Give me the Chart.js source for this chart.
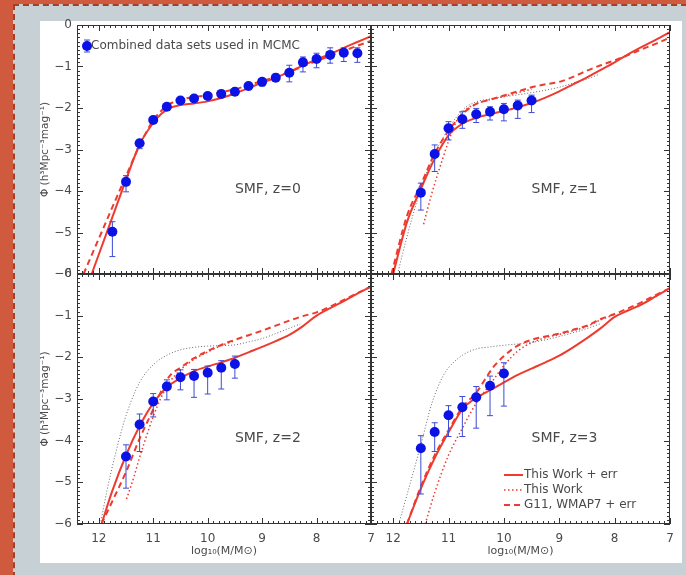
<!DOCTYPE html>
<html>
<head>
<meta charset="utf-8">
<script src="https://cdn.jsdelivr.net/npm/chart.js@4.4.1/dist/chart.umd.min.js"></script>
<style>
    html, body { margin: 0; padding: 0; }
    body { width: 686px; height: 575px; background: #d05a3e; position: relative; overflow: hidden; }
    #frame { position: absolute; left: 13px; top: 4px; width: 700px; height: 600px; border: 2px dashed #a53f29; background: #c6d0d5; }
    #paper { position: absolute; left: 40px; top: 21px; width: 642px; height: 542px; background: #fff; }
    canvas { position: absolute; }
</style>
</head>
<body>
<div id="frame"></div>
<div id="paper"></div>
<canvas id="smf0"></canvas>
<canvas id="smf1"></canvas>
<canvas id="smf2"></canvas>
<canvas id="smf3"></canvas>
<script>
// axis ranges (log10 stellar mass runs backwards, 12.4 -> 7)
const MASS_MIN = 7, MASS_MAX = 12.4;
const PHI_MIN = -6, PHI_MAX = 0;

// z=0 observations
const obsMassZ0 = [11.75, 11.5, 11.25, 11.0, 10.75, 10.5, 10.25, 10.0, 9.75, 9.5, 9.25, 9.0, 8.75, 8.5, 8.25, 8.0, 7.75, 7.5, 7.25];
const obsPhiZ0 = [-4.98, -3.78, -2.85, -2.29, -1.97, -1.82, -1.77, -1.71, -1.66, -1.61, -1.47, -1.37, -1.27, -1.15, -0.90, -0.82, -0.72, -0.67, -0.68];
const obsLoZ0 = [-5.58, -4.02, -2.98, -2.36, -2.03, -1.87, -1.82, -1.76, -1.72, -1.66, -1.56, -1.47, -1.36, -1.37, -1.13, -1.03, -0.92, -0.88, -0.90];
const obsHiZ0 = [-4.74, -3.63, -2.77, -2.22, -1.91, -1.77, -1.72, -1.66, -1.60, -1.56, -1.40, -1.29, -1.18, -0.97, -0.77, -0.68, -0.55, -0.55, -0.55];

// z=1 observations
const obsMassZ1 = [11.5, 11.25, 11.0, 10.75, 10.5, 10.25, 10.0, 9.75, 9.5];
const obsPhiZ1 = [-4.04, -3.11, -2.49, -2.27, -2.15, -2.09, -2.03, -1.94, -1.82];
const obsLoZ1 = [-4.46, -3.53, -2.77, -2.49, -2.35, -2.29, -2.31, -2.25, -2.11];
const obsHiZ1 = [-3.81, -2.89, -2.33, -2.09, -2.01, -1.97, -1.89, -1.81, -1.69];

// z=2 observations
const obsMassZ2 = [11.5, 11.25, 11.0, 10.75, 10.5, 10.25, 10.0, 9.75, 9.5];
const obsPhiZ2 = [-4.38, -3.61, -3.06, -2.70, -2.48, -2.45, -2.37, -2.25, -2.16];
const obsLoZ2 = [-5.14, -4.26, -3.43, -3.02, -2.78, -2.96, -2.88, -2.76, -2.50];
const obsHiZ2 = [-4.10, -3.36, -2.87, -2.54, -2.30, -2.29, -2.21, -2.08, -1.97];

// z=3 observations
const obsMassZ3 = [11.5, 11.25, 11.0, 10.75, 10.5, 10.25, 10.0];
const obsPhiZ3 = [-4.18, -3.79, -3.39, -3.20, -2.96, -2.68, -2.39];
const obsLoZ3 = [-5.28, -4.26, -3.90, -3.90, -3.70, -3.40, -3.17];
const obsHiZ3 = [-3.88, -3.57, -3.16, -2.94, -2.70, -2.45, -2.13];

// model curves as [log10 M, phi]
const workErrZ0 = [[12.13, -6.0], [12.0, -5.53], [11.75, -4.63], [11.5, -3.73], [11.25, -2.88], [11.0, -2.36], [10.85, -2.14], [10.7, -2.0], [10.5, -1.93], [10.25, -1.89], [10.0, -1.84], [9.75, -1.76], [9.5, -1.65], [9.25, -1.52], [9.0, -1.39], [8.75, -1.27], [8.5, -1.13], [8.25, -0.98], [8.0, -0.83], [7.75, -0.70], [7.5, -0.55], [7.25, -0.41], [7.0, -0.27]];
const g11ErrZ0 = [[12.28, -6.0], [12.0, -5.15], [11.75, -4.39], [11.5, -3.64], [11.25, -2.9], [11.0, -2.3], [10.75, -1.95], [10.5, -1.8], [10.25, -1.74], [10.0, -1.69], [9.75, -1.62], [9.5, -1.55], [9.25, -1.45], [9.0, -1.35], [8.75, -1.25], [8.5, -1.13], [8.25, -1.0], [8.0, -0.87], [7.75, -0.74], [7.5, -0.62], [7.25, -0.5], [7.0, -0.38]];

const workErrZ1 = [[12.0, -6.0], [11.75, -4.75], [11.5, -3.95], [11.25, -3.22], [11.0, -2.66], [10.75, -2.38], [10.5, -2.24], [10.25, -2.15], [10.0, -2.07], [9.75, -1.98], [9.5, -1.88], [9.25, -1.75], [9.0, -1.6], [8.75, -1.43], [8.5, -1.26], [8.25, -1.08], [8.0, -0.9], [7.75, -0.7], [7.5, -0.52], [7.25, -0.35], [7.0, -0.17]];
const workZ1 = [[11.45, -4.8], [11.3, -4.05], [11.1, -3.2], [11.0, -2.8], [10.85, -2.3], [10.7, -2.05], [10.5, -1.9], [10.25, -1.8], [10.0, -1.72], [9.75, -1.63], [9.5, -1.55]];
const g11ErrZ1 = [[12.03, -6.0], [11.75, -4.6], [11.5, -3.85], [11.25, -3.1], [11.0, -2.55], [10.75, -2.15], [10.5, -1.9], [10.25, -1.8], [10.0, -1.7], [9.75, -1.6], [9.5, -1.5], [9.25, -1.43], [9.0, -1.37], [8.75, -1.25], [8.5, -1.1], [8.25, -0.97], [8.0, -0.85], [7.75, -0.72], [7.5, -0.58], [7.25, -0.45], [7.0, -0.3]];
const g11Z1 = [[11.92, -6.0], [11.75, -5.1], [11.5, -3.95], [11.25, -3.1], [11.0, -2.5], [10.75, -2.05], [10.5, -1.85], [10.25, -1.78], [10.0, -1.73], [9.5, -1.63], [9.0, -1.5], [8.75, -1.4], [8.5, -1.3], [8.3, -1.2]];

const workErrZ2 = [[11.95, -6.0], [11.75, -5.2], [11.5, -4.35], [11.25, -3.65], [11.0, -3.1], [10.75, -2.72], [10.5, -2.5], [10.25, -2.33], [10.0, -2.22], [9.75, -2.12], [9.5, -2.01], [9.25, -1.88], [9.0, -1.75], [8.75, -1.61], [8.5, -1.46], [8.25, -1.25], [8.0, -1.0], [7.75, -0.82], [7.5, -0.65], [7.25, -0.47], [7.0, -0.3]];
const workZ2 = [[11.49, -5.4], [11.35, -4.85], [11.25, -4.4], [11.1, -3.8], [11.0, -3.42], [10.85, -2.95], [10.7, -2.6], [10.5, -2.3], [10.25, -2.05], [10.0, -1.87], [9.75, -1.72], [9.5, -1.6]];
const g11ErrZ2 = [[11.95, -6.0], [11.75, -5.45], [11.5, -4.75], [11.25, -3.95], [11.0, -3.25], [10.85, -2.8], [10.7, -2.45], [10.5, -2.25], [10.25, -2.02], [10.0, -1.85], [9.75, -1.7], [9.5, -1.58], [9.25, -1.47], [9.0, -1.36], [8.75, -1.24], [8.5, -1.12], [8.25, -1.01], [8.0, -0.92], [7.75, -0.78], [7.5, -0.62], [7.25, -0.46], [7.0, -0.3]];
const g11Z2 = [[11.97, -6.0], [11.85, -5.2], [11.7, -4.35], [11.5, -3.4], [11.25, -2.6], [11.0, -2.18], [10.75, -1.95], [10.5, -1.82], [10.25, -1.76], [10.0, -1.73], [9.75, -1.72], [9.5, -1.7], [9.25, -1.63], [9.0, -1.55], [8.75, -1.43], [8.5, -1.3], [8.3, -1.2]];

const workErrZ3 = [[11.75, -6.0], [11.5, -5.15], [11.25, -4.42], [11.0, -3.8], [10.75, -3.25], [10.5, -2.97], [10.25, -2.79], [10.0, -2.6], [9.75, -2.42], [9.5, -2.27], [9.25, -2.12], [9.0, -1.96], [8.75, -1.76], [8.5, -1.54], [8.25, -1.3], [8.0, -1.03], [7.75, -0.87], [7.5, -0.72], [7.25, -0.53], [7.0, -0.34]];
const workZ3 = [[11.42, -6.0], [11.25, -5.25], [11.0, -4.35], [10.75, -3.7], [10.5, -3.1], [10.25, -2.65], [10.0, -2.2], [9.75, -1.85], [9.5, -1.65], [9.25, -1.53], [9.0, -1.45], [8.75, -1.36], [8.5, -1.26], [8.25, -1.1], [8.0, -0.97]];
const g11ErrZ3 = [[11.75, -6.0], [11.5, -5.1], [11.25, -4.35], [11.0, -3.75], [10.75, -3.2], [10.5, -2.85], [10.35, -2.55], [10.2, -2.25], [10.0, -1.97], [9.75, -1.72], [9.5, -1.58], [9.25, -1.5], [9.0, -1.43], [8.75, -1.34], [8.5, -1.24], [8.25, -1.08], [8.0, -0.96], [7.75, -0.82], [7.5, -0.67], [7.25, -0.5], [7.0, -0.34]];
const g11Z3 = [[11.9, -6.0], [11.75, -5.3], [11.5, -4.1], [11.3, -3.1], [11.1, -2.45], [11.0, -2.25], [10.75, -1.95], [10.5, -1.8], [10.25, -1.75], [10.0, -1.71], [9.75, -1.68], [9.5, -1.64], [9.25, -1.58], [9.0, -1.5], [8.75, -1.41], [8.5, -1.31], [8.25, -1.19]];

const modelLabels = ['This Work + err', 'This Work', 'G11, WMAP7 + err'];

const FONT = 'DejaVu Sans';
const TEXT = '#4a4a4a';
const AXIS = '#333';
const RED = '#ee3b30';
const BLUE = '#0a12e6';
const ERR_BLUE = '#3d4bd6';
const GREY = '#666';
const Y_AXIS_W = 40;
const X_AXIS_H = 40;

const STYLES = {
    solid: { borderColor: RED, borderWidth: 2, borderDash: [] },
    dotted: { borderColor: RED, borderWidth: 1.5, borderDash: [1.5, 2.5] },
    dashed: { borderColor: RED, borderWidth: 2, borderDash: [6, 4] },
    grey: { borderColor: GREY, borderWidth: 1, borderDash: [1, 2] }
};

const panels = [
    { id: 'smf0', label: 'SMF, z=0', rect: [77, 25, 371, 274], showX: false, showY: true, legend: 'data',
        obs: [obsMassZ0, obsPhiZ0, obsLoZ0, obsHiZ0], curves: [[workErrZ0, 'solid'], [g11ErrZ0, 'dashed']] },
    { id: 'smf1', label: 'SMF, z=1', rect: [371, 25, 670, 274], showX: false, showY: false, legend: null,
        obs: [obsMassZ1, obsPhiZ1, obsLoZ1, obsHiZ1], curves: [[workErrZ1, 'solid'], [workZ1, 'dotted'], [g11ErrZ1, 'dashed'], [g11Z1, 'grey']] },
    { id: 'smf2', label: 'SMF, z=2', rect: [77, 274, 371, 524], showX: true, showY: true, legend: null,
        obs: [obsMassZ2, obsPhiZ2, obsLoZ2, obsHiZ2], curves: [[workErrZ2, 'solid'], [workZ2, 'dotted'], [g11ErrZ2, 'dashed'], [g11Z2, 'grey']] },
    { id: 'smf3', label: 'SMF, z=3', rect: [371, 274, 670, 524], showX: true, showY: false, legend: 'models',
        obs: [obsMassZ3, obsPhiZ3, obsLoZ3, obsHiZ3], curves: [[workErrZ3, 'solid'], [workZ3, 'dotted'], [g11ErrZ3, 'dashed'], [g11Z3, 'grey']] }
];

// IDL style box: frame plus inward major/minor ticks on all four sides
const idlFrame = {
    id: 'idlFrame',
    afterDatasetsDraw(chart) {
        const { ctx, chartArea: a, scales: { x, y } } = chart;
        ctx.save();
        ctx.strokeStyle = AXIS;
        ctx.lineWidth = 1;
        ctx.beginPath();
        for (let m = MASS_MIN * 10; m <= MASS_MAX * 10; m++) {
            const px = Math.round(x.getPixelForValue(m / 10)) + 0.5;
            const len = m % 10 === 0 ? 6 : 3;
            ctx.moveTo(px, a.bottom); ctx.lineTo(px, a.bottom - len);
            ctx.moveTo(px, a.top); ctx.lineTo(px, a.top + len);
        }
        for (let f = PHI_MIN * 10; f <= PHI_MAX * 10; f++) {
            const py = Math.round(y.getPixelForValue(f / 10)) + 0.5;
            const len = f % 10 === 0 ? 6 : 3;
            ctx.moveTo(a.left, py); ctx.lineTo(a.left + len, py);
            ctx.moveTo(a.right, py); ctx.lineTo(a.right - len, py);
        }
        ctx.stroke();
        ctx.strokeRect(a.left + 0.5, a.top + 0.5, a.width - 1, a.height - 1);
        ctx.restore();
    }
};

function panelDecor(p) {
    return {
        id: 'panelDecor',
        afterDraw(chart) {
            const { ctx, chartArea: a, scales: { x, y } } = chart;
            ctx.save();
            ctx.fillStyle = TEXT;
            ctx.textBaseline = 'middle';
            ctx.font = `14px "${FONT}"`;
            ctx.fillText(p.label, x.getPixelForValue(9.5), y.getPixelForValue(-3.95));
            ctx.font = `12px "${FONT}"`;
            if (p.legend === 'data') {
                const lx = a.left + 10, ly = a.top + 21;
                ctx.strokeStyle = ERR_BLUE;
                ctx.lineWidth = 1;
                ctx.beginPath();
                ctx.moveTo(lx, ly - 6); ctx.lineTo(lx, ly + 6);
                ctx.moveTo(lx - 3, ly - 6); ctx.lineTo(lx + 3, ly - 6);
                ctx.moveTo(lx - 3, ly + 6); ctx.lineTo(lx + 3, ly + 6);
                ctx.stroke();
                ctx.fillStyle = BLUE;
                ctx.beginPath();
                ctx.arc(lx, ly, 5, 0, Math.PI * 2);
                ctx.fill();
                ctx.fillStyle = TEXT;
                ctx.fillText('Combined data sets used in MCMC', lx + 4, ly);
            }
            if (p.legend === 'models') {
                ['solid', 'dotted', 'dashed'].forEach((key, i) => {
                    const s = STYLES[key];
                    const ly = a.top + 201 + i * 15;
                    ctx.strokeStyle = s.borderColor;
                    ctx.lineWidth = s.borderWidth;
                    ctx.setLineDash(s.borderDash);
                    ctx.beginPath();
                    ctx.moveTo(a.left + 133, ly); ctx.lineTo(a.left + 152, ly);
                    ctx.stroke();
                    ctx.setLineDash([]);
                    ctx.fillText(modelLabels[i], a.left + 153, ly);
                });
            }
            ctx.restore();
        }
    };
}

function buildDatasets(p) {
    const [mass, phi, lo, hi] = p.obs;
    const datasets = [];
    datasets.push({
        data: mass.map((m, i) => ({ x: m, y: phi[i] })),
        showLine: false,
        pointRadius: 5,
        pointBackgroundColor: BLUE,
        pointBorderColor: BLUE,
        pointBorderWidth: 0
    });
    datasets.push({
        data: mass.flatMap((m, i) => [{ x: m, y: lo[i] }, { x: m, y: hi[i] }, { x: m, y: null }]),
        showLine: true,
        spanGaps: false,
        borderColor: ERR_BLUE,
        borderWidth: 1,
        pointStyle: 'line',
        pointRadius: 3,
        pointBorderColor: ERR_BLUE,
        pointBorderWidth: 1
    });
    p.curves.forEach(([points, key]) => {
        datasets.push({
            data: points.map(([m, f]) => ({ x: m, y: f })),
            showLine: true,
            pointRadius: 0,
            fill: false,
            cubicInterpolationMode: 'monotone',
            ...STYLES[key]
        });
    });
    return datasets;
}

function makeChart(p) {
    const canvas = document.getElementById(p.id);
    const [x0, y0, x1, y1] = p.rect;
    const cl = x0 - 60, ct = y0 - 15, cr = x1 + 12, cb = y1 + 46;
    canvas.width = cr - cl;
    canvas.height = cb - ct;
    canvas.style.left = cl + 'px';
    canvas.style.top = ct + 'px';
    const padding = {
        left: x0 - cl - (p.showY ? Y_AXIS_W : 0),
        top: y0 - ct,
        right: cr - x1,
        bottom: cb - y1 - (p.showX ? X_AXIS_H : 0)
    };
    return new Chart(canvas, {
        type: 'scatter',
        data: { datasets: buildDatasets(p) },
        options: {
            responsive: false,
            animation: false,
            devicePixelRatio: 1,
            layout: { padding },
            plugins: { legend: { display: false }, tooltip: { enabled: false } },
            scales: {
                x: {
                    type: 'linear', min: MASS_MIN, max: MASS_MAX, reverse: true,
                    display: p.showX,
                    grid: { display: false, drawTicks: false },
                    border: { display: false },
                    ticks: { stepSize: 1, includeBounds: false, padding: 8, color: TEXT, maxRotation: 0, autoSkip: false,
                        font: { family: FONT, size: 12 } },
                    title: { display: true, text: 'log\u2081\u2080(M/M\u2299)', color: TEXT,
                        font: { family: FONT, size: 11 }, padding: { top: 0, bottom: 6 } },
                    afterFit(s) {
                        if (!p.showX) return;
                        s.height = X_AXIS_H; s.paddingLeft = 0; s.paddingRight = 0;
                    }
                },
                y: {
                    type: 'linear', min: PHI_MIN, max: PHI_MAX,
                    display: p.showY,
                    grid: { display: false, drawTicks: false },
                    border: { display: false },
                    ticks: { stepSize: 1, padding: 5, color: TEXT, font: { family: FONT, size: 12 },
                        callback: v => String(v).replace('-', '\u2212') },
                    title: { display: true, text: '\u03a6 (h\u00b3Mpc\u207b\u00b3mag\u207b\u00b9)', color: TEXT,
                        font: { family: FONT, size: 10.5 }, padding: { top: 2, bottom: 0 } },
                    afterFit(s) {
                        if (!p.showY) return;
                        s.width = Y_AXIS_W; s.paddingTop = 0; s.paddingBottom = 0;
                    }
                }
            }
        },
        plugins: [idlFrame, panelDecor(p)]
    });
}

panels.forEach(makeChart);
</script>
</body>
</html>
